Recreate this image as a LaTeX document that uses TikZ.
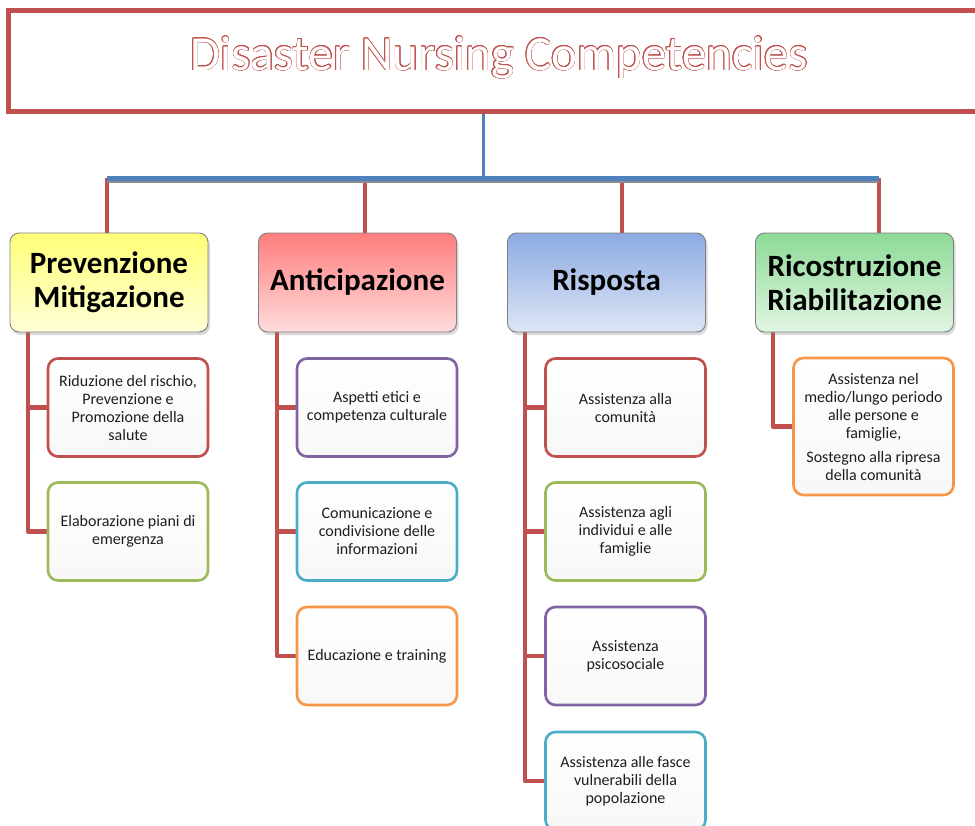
\documentclass[tikz,border=0pt]{standalone}
\usepackage{fontspec}
\setmainfont{Carlito}
\usepackage[copies]{contour}
\usetikzlibrary{shadows,calc,backgrounds}
\definecolor{accRed}{HTML}{C0504D}
\definecolor{accBlue}{HTML}{4F81BD}
\definecolor{accGreen}{HTML}{9BBB59}
\definecolor{accPurple}{HTML}{8064A2}
\definecolor{accCyan}{HTML}{4BACC6}
\definecolor{accOrange}{HTML}{F79646}
\definecolor{textGray}{HTML}{1E1E1E}
\contourlength{0.55pt}
\begin{document}
\begin{tikzpicture}[x=1pt,y=-1pt,
  titlebox/.style={draw=accRed, line width=5pt, minimum width=982pt, minimum height=101pt, inner sep=0pt},
  level/.style={rounded corners=9pt, draw=black!50, line width=0.9pt,
    minimum width=198pt, minimum height=99pt, inner sep=0pt, align=center,
    font=\fontsize{31}{34}\selectfont\bfseries,
    drop shadow={shadow xshift=2pt, shadow yshift=-3pt, opacity=0.3}},
  child/.style={rounded corners=10pt, line width=2.6pt, minimum width=160pt,
    minimum height=98pt, inner sep=0pt, align=center, text=textGray,
    font=\fontsize{16}{18}\selectfont, top color=white, bottom color=black!3},
  branch/.style={draw=accRed, line width=4.5pt, line join=round},
  blueline/.style={draw=accBlue}]
\useasboundingbox (0,0) rectangle (975,825);
\clip (0,0) rectangle (975,825);

% title
\node[titlebox] (title) at (499,60.5) {};
\node[anchor=base, inner sep=0pt, font=\fontsize{49}{55}\selectfont] (titletext) at (499,70)
  {\contour{accRed}{\textcolor{white}{Disaster Nursing Competencies}}};

% level boxes
\node[level, top color={rgb,255:red,255;green,255;blue,120}, bottom color={rgb,255:red,255;green,255;blue,215}] (L1) at (109,282.5) {Prevenzione\\Mitigazione};
\node[level, top color={rgb,255:red,255;green,125;blue,125}, bottom color={rgb,255:red,255;green,220;blue,220}] (L2) at (357.5,282.5) {Anticipazione};
\node[level, top color={rgb,255:red,140;green,170;blue,226}, bottom color={rgb,255:red,222;green,230;blue,246}] (L3) at (606.5,282.5) {Risposta};
\node[level, top color={rgb,255:red,140;green,218;blue,150}, bottom color={rgb,255:red,226;green,245;blue,226}] (L4) at (854.5,282.5) {Ricostruzione\\Riabilitazione};

% children
\node[child, draw=accRed] (c11) at (128,407.5) {Riduzione del rischio,\\Prevenzione e\\Promozione della\\salute};
\node[child, draw=accGreen] (c12) at (128,531.5) {Elaborazione piani di\\emergenza};

\node[child, draw=accPurple] (c21) at (377,407.5) {Aspetti etici e\\competenza culturale};
\node[child, draw=accCyan] (c22) at (377,531.5) {Comunicazione e\\condivisione delle\\informazioni};
\node[child, draw=accOrange] (c23) at (377,656) {Educazione e training};

\node[child, draw=accRed] (c31) at (625.5,407.5) {Assistenza alla\\comunità};
\node[child, draw=accGreen] (c32) at (625.5,531.5) {Assistenza agli\\individui e alle\\famiglie};
\node[child, draw=accPurple] (c33) at (625.5,656) {Assistenza\\psicosociale};
\node[child, draw=accCyan] (c34) at (625.5,781) {Assistenza alle fasce\\vulnerabili della\\popolazione};

\node[child, draw=accOrange, minimum height=137pt] (c41) at (873.5,426.5) {Assistenza nel\\medio/lungo periodo\\alle persone e\\famiglie,\\[6pt]Sostegno alla ripresa\\della comunità};

% connectors
\coordinate (hub) at (483,178);
\coordinate (d1) at (107,178);
\coordinate (d2) at (365,178);
\coordinate (d3) at (622,178);
\coordinate (d4) at (879,178);
\coordinate (v1) at (28,332);
\coordinate (v2) at (277,332);
\coordinate (v3) at (525,332);
\coordinate (v4) at (773,332);

\begin{scope}[on background layer]
  \draw[branch] (d1) -- (d1 |- L1.north);
  \draw[branch] (d2) -- (d2 |- L2.north);
  \draw[branch] (d3) -- (d3 |- L3.north);
  \draw[branch] (d4) -- (d4 |- L4.north);
  \draw[black!45, line width=4pt] ([yshift=-3pt]d1) -- ([yshift=-3pt]d4);
  \draw[blueline, line width=5pt] (d1) -- (d4);
  \draw[blueline, line width=3pt] (title.south -| hub) -- (hub);

  \draw[branch] (v1) |- (c12.west);
  \draw[branch] (v1 |- c11.west) -- (c11.west);

  \draw[branch] (v2) |- (c23.west);
  \draw[branch] (v2 |- c21.west) -- (c21.west);
  \draw[branch] (v2 |- c22.west) -- (c22.west);

  \draw[branch] (v3) |- (c34.west);
  \draw[branch] (v3 |- c31.west) -- (c31.west);
  \draw[branch] (v3 |- c32.west) -- (c32.west);
  \draw[branch] (v3 |- c33.west) -- (c33.west);

  \draw[branch] (v4) |- (c41.west);
\end{scope}
\end{tikzpicture}
\end{document}
